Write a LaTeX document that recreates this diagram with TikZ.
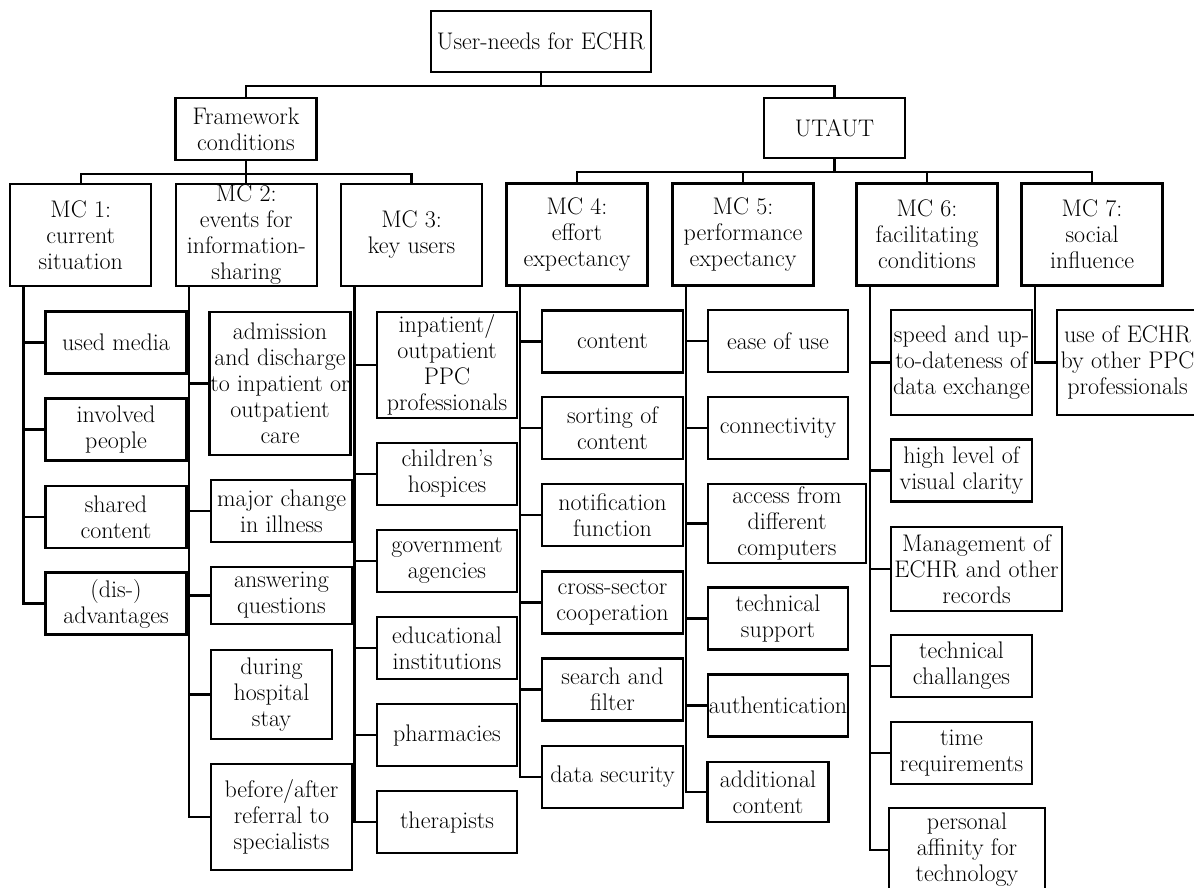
\documentclass[tikz,border=0pt]{standalone}
\usepackage{tikz}
\newcommand{\boxfont}{\fontsize{24}{26}\selectfont}

\begin{document}
\begin{tikzpicture}[x=1pt, y=-1pt, line width=2.3pt,
  box/.style={draw, line width=2.3pt, align=center, inner sep=0pt,
              minimum width=141pt, minimum height=62pt, font=\boxfont}]
  \useasboundingbox (0,0) rectangle (1194,887);
  \clip (0,0) rectangle (1194,887);
  % root and the two branches
  \node[box, minimum width=220pt, minimum height=61pt] (root) at (541,41.5) {User-needs for ECHR};
  \node[box] (frame) at (246,129)   {Framework\\conditions};
  \node[box, minimum height=60pt] (utaut) at (834.5,128) {UTAUT};
  % main categories
  \node[box, minimum height=102pt] (mc1) at (80.7,235)  {MC 1:\\current\\situation};
  \node[box, minimum height=102pt] (mc2) at (246.3,235) {MC 2:\\events for\\information-\\sharing};
  \node[box, minimum height=102pt] (mc3) at (411.6,235) {MC 3:\\key users};
  \node[box, minimum height=102pt] (mc4) at (577,234.5) {MC 4:\\effort\\expectancy};
  \node[box, minimum height=102pt] (mc5) at (743,234.5) {MC 5:\\performance\\expectancy};
  \node[box, minimum height=102pt] (mc6) at (927,234.5) {MC 6:\\facilitating\\conditions};
  \node[box, minimum height=102pt] (mc7) at (1092,234.5) {MC 7:\\social\\influence};
  % MC 1
  \node[box] (media)  at (116,342.5) {used media};
  \node[box] (people) at (116,429.5) {involved\\people};
  \node[box] (shared) at (116,517)   {shared\\content};
  \node[box] (dis)    at (116,603.5) {(dis-)\\advantages};
  % MC 2
  \node[box, minimum height=143pt] (admission) at (280,383.5) {admission\\and discharge\\to inpatient or\\outpatient\\care};
  \node[box] (change)    at (281.5,511)   {major change\\in illness};
  \node[box, minimum height=57pt] (questions) at (281.5,595.5) {answering\\questions};
  \node[box, minimum width=121pt, minimum height=89pt] (stay) at (271.5,694.5) {during\\hospital\\stay};
  \node[box, minimum height=106pt] (referral) at (281.5,817) {before/after\\referral to\\specialists};
  % MC 3
  \node[box, minimum width=140pt, minimum height=106pt] (ppc) at (447,365) {inpatient/\\outpatient\\PPC\\professionals};
  \node[box, minimum width=140pt] (hospices)   at (447,474) {children's\\hospices};
  \node[box, minimum width=140pt] (agencies)   at (447,561) {government\\agencies};
  \node[box, minimum width=140pt] (education)  at (447,648) {educational\\institutions};
  \node[box, minimum width=140pt] (pharmacies) at (447,735) {pharmacies};
  \node[box, minimum width=140pt] (therapists) at (447,822) {therapists};
  % MC 4
  \node[box] (content)  at (612.5,341.5) {content};
  \node[box] (sorting)  at (612.5,428)   {sorting of\\content};
  \node[box] (notify)   at (612.5,515)   {notification\\function};
  \node[box] (sector)   at (612.5,602.5) {cross-sector\\cooperation};
  \node[box] (search)   at (612.5,689.5) {search and\\filter};
  \node[box] (security) at (612.5,777)   {data security};
  % MC 5
  \node[box, minimum width=140pt] (ease)    at (778,341) {ease of use};
  \node[box, minimum width=140pt] (connect) at (778,428) {connectivity};
  \node[box, minimum width=158pt, minimum height=79pt] (access) at (787,523.5) {access from\\different\\computers};
  \node[box, minimum width=140pt] (support) at (778,618.5) {technical\\support};
  \node[box, minimum width=140pt] (auth)    at (778,705.5) {authentication};
  \node[box, minimum width=121pt, minimum height=60pt] (extra) at (768,792) {additional\\content};
  % MC 6
  \node[box, minimum height=105pt] (speed) at (961.5,362.5) {speed and up-\\to-dateness of\\data exchange};
  \node[box] (clarity) at (961.5,470.5) {high level of\\visual clarity};
  \node[box, minimum width=171pt, minimum height=84pt] (records) at (976.5,569) {Management of\\ECHR and other\\records};
  \node[box] (challenges) at (961.5,666) {technical\\challanges};
  \node[box] (time)       at (961.5,753) {time\\requirements};
  \node[box, minimum width=156pt, minimum height=84pt] (affinity) at (967,850) {personal\\affinity for\\technology};
  % MC 7
  \node[box, minimum height=105pt] (others) at (1127.5,362.5) {use of ECHR\\by other PPC\\professionals};
  % tree connectors
  \draw (root.south) -- ++(0,13) -| (frame.north);
  \draw (root.south) -- ++(0,13) -| (utaut.north);
  \foreach \m in {mc1,mc2,mc3}
    \draw (frame.south) -- ++(0,12.5) -| (\m.north);
  \foreach \m in {mc4,mc5,mc6,mc7}
    \draw (utaut.south) -- ++(0,12.5) -| (\m.north);
  % elbow connectors to the sub-categories
  \foreach \c in {media,people,shared,dis}
    \draw ([xshift=14.5pt]mc1.south west) |- (\c.west);
  \foreach \c in {admission,change,questions,stay,referral}
    \draw ([xshift=14.5pt]mc2.south west) |- (\c.west);
  \foreach \c in {ppc,hospices,agencies,education,pharmacies,therapists}
    \draw ([xshift=14.5pt]mc3.south west) |- (\c.west);
  \foreach \c in {content,sorting,notify,sector,search,security}
    \draw ([xshift=14.5pt]mc4.south west) |- (\c.west);
  \foreach \c in {ease,connect,access,support,auth,extra}
    \draw ([xshift=14.5pt]mc5.south west) |- (\c.west);
  \foreach \c in {speed,clarity,records,challenges,time,affinity}
    \draw ([xshift=14.5pt]mc6.south west) |- (\c.west);
  \draw ([xshift=14.5pt]mc7.south west) |- (others.west);
\end{tikzpicture}
\end{document}
